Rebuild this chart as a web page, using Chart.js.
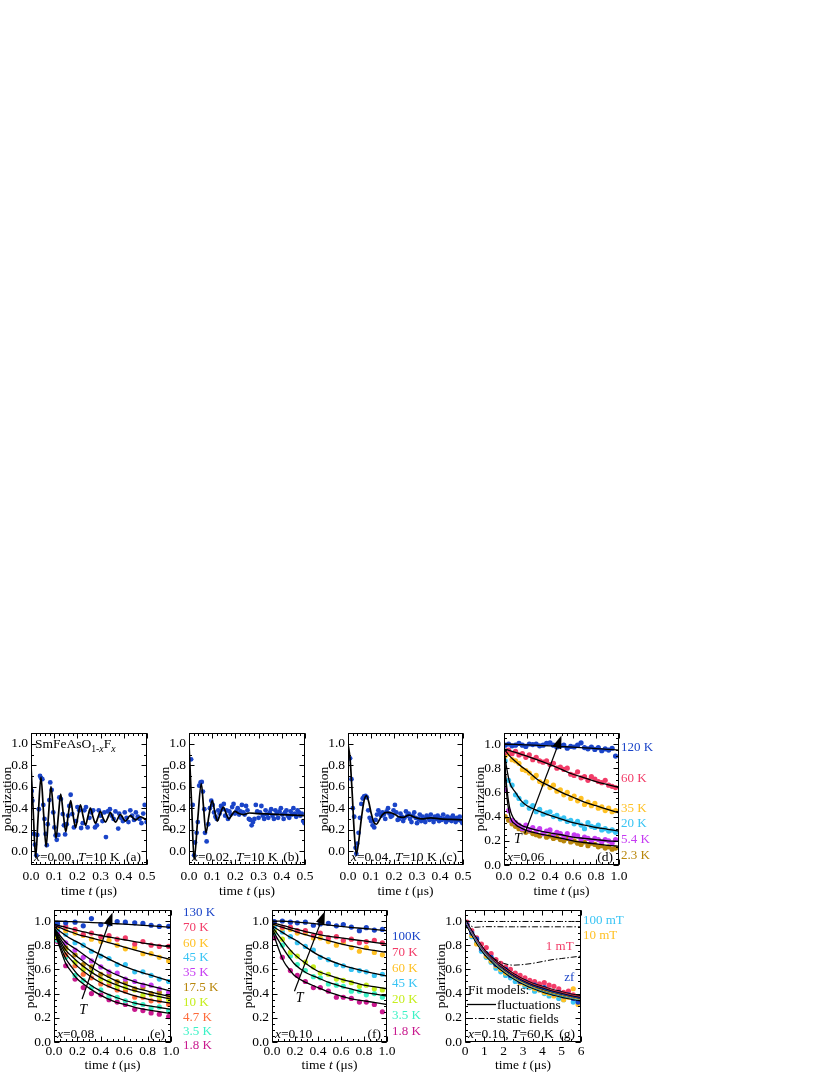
<!DOCTYPE html>
<html>
<head>
<meta charset="utf-8">
<script src="https://cdn.jsdelivr.net/npm/chart.js@4.4.1/dist/chart.umd.min.js"></script>
<style>
html,body{margin:0;padding:0;background:#fff;}
#fig{position:relative;width:830px;height:1075px;overflow:hidden;background:#fff;}
#fig canvas{position:absolute;}
</style>
</head>
<body>
<div id="fig"></div>
<script>
const FONT='"Liberation Serif", "Times New Roman", serif';
const BLUE='#1a44c8', RED='#f23c68', GOLD='#ffc125', CYAN='#38c4f4', PURPLE='#c63cf2',
      BROWN='#b8860b', LIME='#c6ee1e', ORANGE='#ff6c3c', AQUA='#3cf2c6', MAGENTA='#c8188e';

// tick values
const xTicksHalf=[0,0.1,0.2,0.3,0.4,0.5];
const xTicksOne=[0,0.2,0.4,0.6,0.8,1.0];
const xTicksG=[0,1,2,3,4,5,6];
const yTicks=[0,0.2,0.4,0.6,0.8,1.0];

// (a) x=0.00, T=10 K  -- [t, P]
const aPts=[[0.003,0.56],[0.006,0.47],[0.013,0.16],[0.017,0.06],[0.023,-0.04],[0.027,0.15],[0.034,0.39],[0.039,0.70],[0.044,0.68],[0.049,0.67],
[0.053,0.43],[0.058,0.30],[0.063,0.16],[0.068,0.055],[0.072,0.25],[0.079,0.475],[0.083,0.64],[0.089,0.57],[0.096,0.36],[0.101,0.22],
[0.106,0.145],[0.111,0.105],[0.118,0.15],[0.122,0.50],[0.129,0.485],[0.137,0.345],[0.142,0.24],[0.147,0.155],[0.154,0.25],[0.16,0.33],
[0.165,0.42],[0.171,0.525],[0.178,0.345],[0.185,0.22],[0.194,0.28],[0.2,0.41],[0.208,0.38],[0.216,0.215],[0.223,0.26],[0.23,0.38],
[0.237,0.41],[0.244,0.22],[0.252,0.31],[0.26,0.36],[0.268,0.38],[0.276,0.22],[0.284,0.24],[0.292,0.38],[0.3,0.33],[0.308,0.28],
[0.316,0.36],[0.323,0.13],[0.331,0.37],[0.34,0.39],[0.348,0.33],[0.356,0.30],[0.364,0.37],[0.376,0.21],[0.38,0.35],[0.388,0.31],
[0.396,0.28],[0.404,0.36],[0.412,0.31],[0.42,0.27],[0.428,0.38],[0.436,0.33],[0.444,0.29],[0.452,0.36],[0.46,0.32],[0.468,0.30],
[0.476,0.26],[0.484,0.35],[0.49,0.43],[0.498,0.27]];
const aFit=[[0,0.80],[0.010,0.35],[0.020,-0.06],[0.031,0.33],[0.043,0.69],[0.054,0.36],[0.065,0.04],[0.075,0.32],[0.086,0.60],[0.097,0.36],
[0.108,0.12],[0.118,0.33],[0.128,0.53],[0.139,0.35],[0.150,0.18],[0.160,0.33],[0.171,0.47],[0.181,0.34],[0.192,0.22],[0.202,0.32],
[0.213,0.43],[0.224,0.33],[0.235,0.24],[0.245,0.32],[0.256,0.40],[0.267,0.32],[0.278,0.26],[0.288,0.31],[0.299,0.37],[0.310,0.31],
[0.321,0.27],[0.331,0.31],[0.342,0.36],[0.353,0.31],[0.364,0.27],[0.385,0.34],[0.407,0.28],[0.428,0.33],[0.450,0.29],[0.471,0.32],
[0.492,0.30],[0.5,0.30]];

// (b) x=0.02, T=10 K
const bPts=[[0.009,0.855],[0.016,0.43],[0.022,-0.04],[0.026,0.08],[0.033,0.17],[0.038,0.27],[0.044,0.61],[0.05,0.64],[0.055,0.645],[0.06,0.555],
[0.066,0.39],[0.069,0.17],[0.076,0.09],[0.083,0.25],[0.09,0.40],[0.096,0.47],[0.102,0.43],[0.108,0.36],[0.114,0.32],[0.12,0.30],
[0.126,0.38],[0.132,0.35],[0.138,0.42],[0.144,0.39],[0.15,0.44],[0.156,0.33],[0.162,0.38],[0.168,0.30],[0.174,0.37],[0.18,0.34],
[0.186,0.41],[0.192,0.44],[0.198,0.35],[0.204,0.37],[0.21,0.40],[0.216,0.34],[0.222,0.37],[0.228,0.43],[0.234,0.36],[0.24,0.34],
[0.246,0.42],[0.252,0.38],[0.258,0.30],[0.264,0.29],[0.27,0.24],[0.276,0.27],[0.282,0.30],[0.288,0.43],[0.294,0.37],[0.3,0.31],
[0.306,0.36],[0.312,0.42],[0.318,0.33],[0.324,0.30],[0.33,0.38],[0.336,0.34],[0.342,0.31],[0.348,0.36],[0.354,0.39],[0.36,0.33],
[0.366,0.30],[0.372,0.38],[0.378,0.35],[0.384,0.31],[0.39,0.37],[0.396,0.40],[0.402,0.34],[0.408,0.30],[0.414,0.36],[0.42,0.38],
[0.426,0.33],[0.432,0.31],[0.438,0.37],[0.444,0.34],[0.45,0.40],[0.456,0.35],[0.462,0.32],[0.468,0.38],[0.474,0.36],[0.48,0.33],
[0.486,0.35],[0.492,0.28],[0.498,0.26]];
const bFit=[[0,1.0],[0.011,0.45],[0.022,-0.08],[0.037,0.28],[0.053,0.63],[0.063,0.40],[0.073,0.17],[0.086,0.33],[0.1,0.47],[0.111,0.37],
[0.122,0.28],[0.135,0.35],[0.148,0.41],[0.16,0.35],[0.172,0.30],[0.185,0.34],[0.198,0.37],[0.215,0.35],[0.235,0.34],[0.26,0.355],
[0.3,0.35],[0.35,0.345],[0.4,0.34],[0.45,0.335],[0.5,0.33]];

// (c) x=0.04, T=10 K
const cPts=[[0.009,0.865],[0.015,0.67],[0.021,0.40],[0.027,0.32],[0.033,0.03],[0.036,-0.025],[0.04,0.07],[0.046,0.17],[0.052,0.31],[0.058,0.44],
[0.064,0.49],[0.07,0.51],[0.076,0.515],[0.082,0.50],[0.088,0.38],[0.094,0.31],[0.1,0.28],[0.107,0.24],[0.114,0.22],[0.12,0.29],
[0.126,0.34],[0.132,0.38],[0.138,0.35],[0.144,0.33],[0.15,0.36],[0.156,0.34],[0.162,0.30],[0.168,0.37],[0.174,0.40],[0.18,0.35],
[0.186,0.32],[0.192,0.33],[0.198,0.38],[0.204,0.43],[0.21,0.36],[0.216,0.29],[0.222,0.30],[0.228,0.35],[0.234,0.32],[0.24,0.28],
[0.246,0.31],[0.252,0.37],[0.258,0.33],[0.264,0.35],[0.27,0.30],[0.276,0.27],[0.282,0.33],[0.288,0.36],[0.294,0.31],[0.3,0.26],
[0.306,0.30],[0.312,0.34],[0.318,0.28],[0.324,0.32],[0.33,0.30],[0.336,0.27],[0.342,0.33],[0.348,0.31],[0.354,0.29],[0.36,0.34],
[0.366,0.30],[0.372,0.27],[0.378,0.32],[0.384,0.30],[0.39,0.33],[0.396,0.28],[0.402,0.31],[0.408,0.29],[0.414,0.34],[0.42,0.30],
[0.426,0.27],[0.432,0.32],[0.438,0.29],[0.444,0.31],[0.45,0.28],[0.456,0.33],[0.462,0.30],[0.468,0.27],[0.474,0.31],[0.48,0.29],
[0.486,0.32],[0.492,0.28],[0.498,0.26]];
const cFit=[[0,1.0],[0.009,0.86],[0.018,0.55],[0.027,0.18],[0.036,-0.03],[0.046,0.08],[0.058,0.30],[0.07,0.47],[0.08,0.515],[0.09,0.46],
[0.1,0.36],[0.112,0.27],[0.124,0.25],[0.136,0.29],[0.15,0.34],[0.17,0.36],[0.19,0.355],[0.205,0.34],[0.22,0.32],[0.24,0.315],
[0.265,0.335],[0.29,0.315],[0.32,0.30],[0.36,0.31],[0.4,0.30],[0.45,0.295],[0.5,0.29]];

// (d) x=0.06
const dT=[0.01,0.04,0.07,0.10,0.13,0.16,0.19,0.22,0.25,0.28,0.31,0.34,0.37,0.40,0.43,0.46,0.49,0.52,0.55,0.58,0.61,0.64,0.67,0.70,0.73,0.76,0.79,0.82,0.85,0.88,0.91,0.94,0.97];
const d120=[0.99,1.0,0.985,0.99,1.005,0.99,0.98,1.0,0.995,1.0,0.985,0.99,1.005,1.01,0.99,0.975,0.985,0.99,0.965,0.98,0.975,0.99,1.01,0.97,0.96,0.975,0.955,0.97,0.945,0.96,0.95,0.965,0.90];
const d60=[0.93,0.95,0.92,0.94,0.91,0.92,0.89,0.91,0.87,0.89,0.86,0.85,0.86,0.83,0.84,0.80,0.81,0.79,0.80,0.75,0.74,0.77,0.72,0.73,0.70,0.73,0.71,0.69,0.68,0.70,0.66,0.65,0.64];
const d35=[0.90,0.92,0.87,0.86,0.84,0.79,0.78,0.76,0.72,0.74,0.69,0.67,0.69,0.64,0.66,0.61,0.62,0.58,0.60,0.55,0.57,0.53,0.55,0.50,0.52,0.49,0.51,0.47,0.48,0.45,0.47,0.44,0.45];
const d20=[0.86,0.70,0.66,0.58,0.55,0.50,0.52,0.47,0.49,0.44,0.46,0.42,0.43,0.44,0.40,0.41,0.38,0.39,0.36,0.37,0.34,0.36,0.33,0.30,0.35,0.32,0.31,0.33,0.29,0.30,0.28,0.29,0.27];
const d54=[0.62,0.45,0.37,0.35,0.33,0.30,0.33,0.29,0.31,0.28,0.30,0.26,0.28,0.29,0.25,0.27,0.26,0.23,0.26,0.22,0.25,0.24,0.21,0.23,0.22,0.20,0.22,0.21,0.19,0.21,0.20,0.18,0.21];
const d23=[0.40,0.37,0.34,0.32,0.30,0.29,0.27,0.28,0.26,0.25,0.24,0.26,0.23,0.24,0.22,0.23,0.21,0.20,0.22,0.19,0.20,0.18,0.17,0.19,0.16,0.18,0.17,0.15,0.16,0.14,0.15,0.13,0.14];
const dFitT=[0,0.02,0.05,0.1,0.15,0.2,0.3,0.4,0.5,0.6,0.7,0.8,0.9,1.0];
const dF120=[1.0,1.0,0.998,0.996,0.994,0.992,0.988,0.984,0.979,0.974,0.968,0.962,0.956,0.95];
const dF60=[0.96,0.955,0.945,0.93,0.915,0.9,0.865,0.83,0.79,0.75,0.72,0.69,0.665,0.64];
const dF35=[0.96,0.935,0.90,0.855,0.815,0.78,0.70,0.65,0.60,0.56,0.52,0.49,0.46,0.43];
const dF20=[0.95,0.82,0.68,0.60,0.53,0.49,0.445,0.41,0.38,0.35,0.33,0.31,0.295,0.28];
const dF54=[0.95,0.68,0.47,0.365,0.33,0.31,0.285,0.265,0.25,0.23,0.22,0.21,0.20,0.195];
const dF23=[0.95,0.62,0.41,0.335,0.305,0.285,0.26,0.24,0.22,0.20,0.186,0.174,0.163,0.155];
const dNames=['120 K','60 K','35 K','20 K','5.4 K','2.3 K'];
const dNameV=[0.967,0.714,0.47,0.34,0.21,0.08];

// (e) x=0.08
const eT=[0.03,0.10,0.18,0.25,0.32,0.40,0.47,0.54,0.61,0.69,0.76,0.83,0.90,0.98];
const e130=[0.98,0.985,0.99,0.96,1.02,0.97,0.975,0.995,0.99,0.985,0.98,0.965,0.955,0.955];
const e70=[0.965,0.955,0.93,0.89,0.90,0.87,0.88,0.85,0.86,0.81,0.83,0.80,0.79,0.79];
const e60=[0.95,0.92,0.90,0.88,0.85,0.83,0.84,0.80,0.77,0.78,0.73,0.73,0.70,0.67];
const e45=[0.93,0.89,0.82,0.80,0.75,0.71,0.69,0.64,0.64,0.58,0.58,0.55,0.52,0.50];
const e35=[0.90,0.82,0.76,0.70,0.67,0.62,0.58,0.57,0.52,0.50,0.47,0.47,0.44,0.41];
const e17=[0.89,0.78,0.72,0.64,0.62,0.56,0.55,0.50,0.49,0.44,0.45,0.40,0.41,0.38];
const e10=[0.87,0.77,0.66,0.60,0.58,0.52,0.50,0.46,0.45,0.43,0.39,0.39,0.37,0.35];
const e4=[0.86,0.72,0.63,0.56,0.53,0.48,0.47,0.43,0.42,0.37,0.37,0.34,0.34,0.31];
const e3=[0.84,0.70,0.55,0.51,0.45,0.43,0.38,0.37,0.34,0.32,0.31,0.28,0.29,0.26];
const e1=[0.83,0.63,0.52,0.45,0.40,0.39,0.35,0.33,0.31,0.27,0.26,0.24,0.23,0.21];
const eFitT=[0,0.05,0.1,0.15,0.2,0.3,0.4,0.5,0.6,0.7,0.8,0.9,1.0];
const eF130=[1.0,0.998,0.996,0.994,0.992,0.988,0.984,0.979,0.974,0.968,0.962,0.955,0.948];
const eF70=[0.975,0.96,0.948,0.935,0.922,0.90,0.88,0.862,0.845,0.828,0.812,0.798,0.785];
const eF60=[0.965,0.945,0.925,0.908,0.89,0.865,0.84,0.812,0.785,0.758,0.73,0.705,0.68];
const eF45=[0.955,0.915,0.88,0.85,0.825,0.77,0.72,0.67,0.625,0.59,0.56,0.53,0.50];
const eF35=[0.945,0.88,0.825,0.79,0.76,0.69,0.625,0.57,0.53,0.495,0.47,0.445,0.42];
const eF17=[0.94,0.86,0.79,0.745,0.705,0.63,0.57,0.52,0.48,0.445,0.42,0.395,0.375];
const eF10=[0.935,0.84,0.76,0.71,0.665,0.59,0.53,0.485,0.45,0.42,0.395,0.375,0.355];
const eF4=[0.93,0.82,0.73,0.675,0.625,0.55,0.49,0.445,0.41,0.38,0.355,0.335,0.32];
const eF3=[0.93,0.80,0.69,0.62,0.56,0.48,0.42,0.38,0.345,0.32,0.30,0.285,0.27];
const eF1=[0.925,0.78,0.65,0.58,0.52,0.445,0.385,0.34,0.31,0.285,0.265,0.25,0.235];
const eNames=['130 K','70 K','60 K','45 K','35 K','17.5 K','10 K','4.7 K','3.5 K','1.8 K'];
const eNameV=[1.067,0.944,0.817,0.694,0.573,0.452,0.324,0.203,0.09,-0.03];

// (f) x=0.10
const fT=[0.02,0.09,0.16,0.22,0.29,0.36,0.42,0.49,0.56,0.62,0.69,0.76,0.82,0.89,0.96];
const f100=[0.995,1.0,0.99,0.985,0.99,0.965,0.975,0.98,0.96,0.97,0.95,0.92,0.945,0.925,0.93];
const f70=[0.99,0.95,0.95,0.92,0.92,0.88,0.90,0.86,0.87,0.84,0.85,0.82,0.83,0.84,0.82];
const f60=[0.98,0.94,0.93,0.90,0.90,0.86,0.86,0.83,0.80,0.82,0.78,0.75,0.78,0.74,0.72];
const f45=[0.95,0.91,0.87,0.82,0.79,0.76,0.70,0.68,0.64,0.63,0.60,0.59,0.58,0.55,0.56];
const f20=[0.92,0.85,0.74,0.71,0.66,0.62,0.57,0.56,0.52,0.51,0.49,0.46,0.47,0.44,0.43];
const f3=[0.90,0.80,0.71,0.64,0.59,0.54,0.53,0.48,0.47,0.46,0.42,0.42,0.39,0.40,0.37];
const f1=[0.86,0.70,0.59,0.55,0.50,0.45,0.45,0.42,0.37,0.37,0.36,0.33,0.33,0.31,0.25];
const fFitT=[0,0.05,0.1,0.15,0.2,0.3,0.4,0.5,0.6,0.7,0.8,0.9,1.0];
const fF100=[1.0,0.999,0.998,0.995,0.993,0.985,0.975,0.965,0.955,0.946,0.938,0.929,0.92];
const fF70=[0.985,0.975,0.962,0.948,0.935,0.91,0.89,0.873,0.86,0.847,0.835,0.822,0.81];
const fF60=[0.975,0.96,0.945,0.93,0.915,0.885,0.86,0.835,0.81,0.79,0.77,0.755,0.74];
const fF45=[0.965,0.93,0.9,0.87,0.845,0.78,0.72,0.675,0.64,0.61,0.585,0.565,0.545];
const fF20=[0.955,0.89,0.83,0.77,0.72,0.645,0.585,0.55,0.52,0.495,0.47,0.455,0.44];
const fF3=[0.94,0.85,0.77,0.70,0.64,0.57,0.53,0.49,0.46,0.435,0.41,0.395,0.38];
const fF1=[0.93,0.79,0.67,0.60,0.545,0.49,0.45,0.41,0.38,0.355,0.34,0.325,0.31];
const fNames=['100K','70 K','60 K','45 K','20 K','3.5 K','1.8 K'];
const fNameV=[0.87,0.74,0.61,0.48,0.35,0.22,0.09];

// (g) x=0.10, T=60 K, longitudinal fields
const gT=[0.1,0.35,0.6,0.85,1.1,1.35,1.6,1.85,2.1,2.35,2.6,2.85,3.1,3.35,3.6,3.85,4.1,4.35,4.6,4.85,5.1,5.35,5.6,5.85];
const gZf=[0.97,0.90,0.85,0.77,0.73,0.70,0.64,0.62,0.60,0.55,0.54,0.50,0.50,0.47,0.47,0.44,0.45,0.42,0.40,0.41,0.38,0.39,0.36,0.33];
const g1=[0.99,0.92,0.86,0.81,0.78,0.73,0.68,0.65,0.62,0.60,0.57,0.55,0.53,0.51,0.50,0.48,0.49,0.47,0.46,0.44,0.41,0.42,0.39,0.37];
const g10=[0.96,0.88,0.81,0.77,0.71,0.67,0.63,0.60,0.57,0.55,0.53,0.49,0.48,0.46,0.44,0.43,0.41,0.40,0.38,0.39,0.35,0.37,0.44,0.31];
const g100=[0.96,0.87,0.82,0.75,0.70,0.66,0.61,0.58,0.55,0.53,0.50,0.49,0.46,0.45,0.42,0.43,0.40,0.38,0.39,0.36,0.35,0.38,0.33,0.34];
const gFitT=[0,0.25,0.5,0.75,1,1.5,2,2.5,3,3.5,4,4.5,5,5.5,6];
const gFZf=[1.0,0.93,0.865,0.80,0.745,0.665,0.60,0.545,0.50,0.465,0.44,0.415,0.395,0.375,0.36];
const gF1=[1.0,0.935,0.87,0.81,0.755,0.675,0.615,0.56,0.515,0.48,0.455,0.43,0.41,0.39,0.375];
const gF10=[1.0,0.928,0.86,0.795,0.74,0.66,0.59,0.535,0.49,0.455,0.428,0.405,0.385,0.367,0.35];
const gF100=[1.0,0.925,0.855,0.79,0.735,0.65,0.585,0.53,0.485,0.45,0.42,0.397,0.377,0.36,0.345];
const gS100=[1.0,0.997,0.996,0.996,0.996,0.996,0.996,0.996,0.996,0.996,0.996,0.996,0.996,0.996,0.996];
const gS10=[1.0,0.965,0.948,0.95,0.953,0.953,0.952,0.952,0.952,0.952,0.952,0.952,0.952,0.952,0.952];
const gS1=[1.0,0.93,0.87,0.81,0.76,0.69,0.65,0.635,0.64,0.65,0.665,0.68,0.69,0.70,0.71];

const zip=(ts,vs)=>ts.map((t,i)=>({x:t,y:vs[i]}));
const pairs=ps=>ps.map(p=>({x:p[0],y:p[1]}));

function dots(data,color,r){
  return {data,showLine:false,pointRadius:r||2.6,pointHoverRadius:r||2.6,pointBackgroundColor:color,pointBorderWidth:0,order:3};
}
function curve(data,color,width,dash,order){
  return {data,showLine:true,pointRadius:0,borderColor:color||'#000',borderWidth:width||1.3,
    borderDash:dash||[],cubicInterpolationMode:'monotone',fill:false,order:order||1};
}

// mixed italic / subscript text
function rich(ctx,parts,x,y,size,align,color){
  let w=0;
  const segs=parts.map(([t,st])=>{
    const sub=st.indexOf('s')>=0, it=st.indexOf('i')>=0;
    const fs=sub?size*0.72:size;
    const f=(it?'italic ':'')+fs+'px '+FONT;
    ctx.font=f;
    const sw=ctx.measureText(t).width;
    w+=sw;
    return {t,f,sw,dy:sub?size*0.32:0};
  });
  let cx=align==='right'?x-w:align==='center'?x-w/2:x;
  ctx.fillStyle=color||'#000';
  ctx.textAlign='left';
  ctx.textBaseline='alphabetic';
  segs.forEach(s=>{ctx.font=s.f;ctx.fillText(s.t,cx,y+s.dy);cx+=s.sw;});
}

const deco={
  id:'deco',
  afterDraw(chart,args,o){
    const ctx=chart.ctx, a=chart.chartArea, x=chart.scales.x, y=chart.scales.y;
    const L=Math.round(a.left)+0.5, R=Math.round(a.right)-0.5, T=Math.round(a.top)+0.5, B=Math.round(a.bottom)-0.5;
    ctx.save();
    ctx.strokeStyle='#000';ctx.fillStyle='#000';ctx.lineWidth=1;ctx.setLineDash([]);
    ctx.strokeRect(L,T,R-L,B-T);
    ctx.beginPath();
    const mark=(v,len,isX)=>{
      if(isX){
        const px=Math.round(x.getPixelForValue(v))+0.5;
        ctx.moveTo(px,B);ctx.lineTo(px,B-len);ctx.moveTo(px,T);ctx.lineTo(px,T+len);
      }else{
        const py=Math.round(y.getPixelForValue(v))+0.5;
        ctx.moveTo(L,py);ctx.lineTo(L+len,py);ctx.moveTo(R,py);ctx.lineTo(R-len,py);
      }
    };
    for(let k=0;x.min+k*o.xMinor<=x.max+1e-9;k++) mark(x.min+k*o.xMinor,2.5,true);
    x.ticks.forEach(t=>mark(t.value,5,true));
    for(let k=Math.ceil(y.min/o.yMinor-1e-9);k*o.yMinor<=y.max+1e-9;k++) mark(k*o.yMinor,2.5,false);
    y.ticks.forEach(t=>mark(t.value,5,false));
    ctx.stroke();

    // axis titles
    rich(ctx,[['time ',''],['t','i'],[' (\u03bcs)','']],(a.left+a.right)/2,a.bottom+o.titleDy,13.5,'center');
    ctx.save();
    ctx.translate(a.left-24,(a.top+a.bottom)/2);
    ctx.rotate(-Math.PI/2);
    rich(ctx,[['polarization','']],0,4,13.5,'center');
    ctx.restore();

    // series names on the right
    if(o.names){
      ctx.font='13px '+FONT;ctx.textAlign='left';ctx.textBaseline='middle';
      o.names.forEach((n,i)=>{ctx.fillStyle=o.nameColors[i];ctx.fillText(n,a.right+o.nameGap,y.getPixelForValue(o.nameV[i]));});
    }
    if(o.inner){
      o.inner.forEach(n=>{
        ctx.font='13px '+FONT;ctx.textAlign='center';ctx.textBaseline='middle';ctx.fillStyle=n.color;
        ctx.fillText(n.text,x.getPixelForValue(n.t),y.getPixelForValue(n.v));
      });
    }
    // temperature arrow
    if(o.arrow){
      const x0=x.getPixelForValue(o.arrow[0]),y0=y.getPixelForValue(o.arrow[1]);
      const x1=x.getPixelForValue(o.arrow[2]),y1=y.getPixelForValue(o.arrow[3]);
      const ang=Math.atan2(y1-y0,x1-x0),hl=13,hw=4.5;
      const bx=x1-hl*Math.cos(ang),by=y1-hl*Math.sin(ang);
      ctx.strokeStyle='#000';ctx.fillStyle='#000';ctx.lineWidth=1.2;
      ctx.beginPath();ctx.moveTo(x0,y0);ctx.lineTo(bx,by);ctx.stroke();
      ctx.beginPath();ctx.moveTo(x1,y1);
      ctx.lineTo(bx+hw*Math.sin(ang),by-hw*Math.cos(ang));
      ctx.lineTo(bx-hw*Math.sin(ang),by+hw*Math.cos(ang));
      ctx.closePath();ctx.fill();
      rich(ctx,[['T','i']],x.getPixelForValue(o.tMark[0]),y.getPixelForValue(o.tMark[1])+4.5,14,'center');
    }
    // fit model key for (g)
    if(o.key){
      const lx=a.left;
      rich(ctx,[['Fit models:','']],lx+3,y.getPixelForValue(0.435)+4.5,13.5);
      let yy=Math.round(y.getPixelForValue(0.315))+0.5;
      ctx.strokeStyle='#000';ctx.lineWidth=1.3;ctx.setLineDash([]);
      ctx.beginPath();ctx.moveTo(lx+2,yy);ctx.lineTo(lx+31,yy);ctx.stroke();
      rich(ctx,[['fluctuations','']],lx+32,yy+4.5,13.5);
      yy=Math.round(y.getPixelForValue(0.2))+0.5;
      ctx.lineWidth=1;ctx.setLineDash([6,2,1.5,2]);
      ctx.beginPath();ctx.moveTo(lx+2,yy);ctx.lineTo(lx+30,yy);ctx.stroke();
      ctx.setLineDash([]);
      rich(ctx,[['static fields','']],lx+32,yy+4.5,13.5);
    }
    // corner notes
    (o.notes||[]).forEach(n=>{
      const px=(n.side==='r'?a.right:a.left)+n.dx;
      const py=(n.top?a.top:a.bottom)+n.dy;
      rich(ctx,n.parts,px,py,13.5,n.side==='r'?'right':'left');
    });
    ctx.restore();
  }
};

const fig=document.getElementById('fig');
function panel(cfg){
  const YW=34,TP=10,XH=cfg.xh;
  const [bl,bt,bw,bh]=cfg.box;
  const W=YW+bw+cfg.right,H=TP+bh+XH;
  const cv=document.createElement('canvas');
  cv.width=W;cv.height=H;
  cv.style.left=(bl-YW)+'px';cv.style.top=(bt-TP)+'px';
  cv.style.width=W+'px';cv.style.height=H+'px';
  fig.appendChild(cv);
  const tickFont={family:FONT,size:13.5};
  return new Chart(cv,{
    type:'scatter',
    data:{datasets:cfg.datasets},
    options:{
      responsive:false,animation:false,events:[],devicePixelRatio:1,
      layout:{padding:{left:0,top:TP,right:cfg.right,bottom:0}},
      plugins:{legend:{display:false},tooltip:{enabled:false},deco:cfg.deco},
      scales:{
        x:{type:'linear',position:'bottom',min:cfg.x[0],max:cfg.x[1],
          afterBuildTicks:s=>{s.ticks=cfg.xTicks.map(v=>({value:v}));},
          afterFit:s=>{s.height=XH;},
          grid:{display:false,drawTicks:false},border:{display:false},
          ticks:{font:tickFont,color:'#000',padding:cfg.tickPad,autoSkip:false,maxRotation:0,callback:v=>v.toFixed(cfg.xDigits)}},
        y:{type:'linear',position:'left',min:cfg.y[0],max:cfg.y[1],
          afterBuildTicks:s=>{s.ticks=yTicks.map(v=>({value:v}));},
          afterFit:s=>{s.width=YW;},
          grid:{display:false,drawTicks:false},border:{display:false},
          ticks:{font:tickFont,color:'#000',padding:3,callback:v=>v.toFixed(1)}}
      }
    },
    plugins:[deco]
  });
}

const xNote=(xv,tv)=>tv?[['x','i'],['='+xv+', ',''],['T','i'],['='+tv,'']]:[['x','i'],['='+xv,'']];
const corner=(xv,tv,tag)=>[{side:'l',dx:3,dy:-4,parts:xNote(xv,tv)},{side:'r',dx:-6,dy:-4,parts:[[tag,'']]}];
const topRow={xh:38,tickPad:3};
const botRow={xh:34,tickPad:1};

// top row
panel({...topRow,box:[31,732,116,133],right:12,x:[0,0.5],xTicks:xTicksHalf,xDigits:1,y:[-0.13,1.1],
  datasets:[dots(pairs(aPts),BLUE,2.4),curve(pairs(aFit),'#000',1.7)],
  deco:{titleDy:29.5,xMinor:0.02,yMinor:0.1,notes:corner('0.00','10 K','(a)').concat([
    {side:'l',dx:4,top:true,dy:15,parts:[['SmFeAsO',''],['1-','s'],['x','si'],['F',''],['x','si']]}])}});
panel({...topRow,box:[189,732,116,133],right:12,x:[0,0.5],xTicks:xTicksHalf,xDigits:1,y:[-0.13,1.1],
  datasets:[dots(pairs(bPts),BLUE,2.4),curve(pairs(bFit),'#000',1.7)],
  deco:{titleDy:29.5,xMinor:0.02,yMinor:0.1,notes:corner('0.02','10 K','(b)')}});
panel({...topRow,box:[348,732,115,133],right:12,x:[0,0.5],xTicks:xTicksHalf,xDigits:1,y:[-0.13,1.1],
  datasets:[dots(pairs(cPts),BLUE,2.4),curve(pairs(cFit),'#000',1.7)],
  deco:{titleDy:29.5,xMinor:0.02,yMinor:0.1,notes:corner('0.04','10 K','(c)')}});

const dCols=[BLUE,RED,GOLD,CYAN,PURPLE,BROWN];
const dVals=[d120,d60,d35,d20,d54,d23], dFits=[dF120,dF60,dF35,dF20,dF54,dF23];
panel({...topRow,box:[504,732,115,133],right:50,x:[0,1],xTicks:xTicksOne,xDigits:1,y:[0,1.09],
  datasets:dVals.map((v,i)=>dots(zip(dT,v),dCols[i])).concat(dFits.map(v=>curve(zip(dFitT,v)))),
  deco:{titleDy:29.5,xMinor:0.05,yMinor:0.05,names:dNames,nameV:dNameV,nameColors:dCols,nameGap:2,
    arrow:[0.18,0.26,0.5,1.07],tMark:[0.12,0.215],notes:corner('0.06',null,'(d)')}});

// bottom row
const eCols=[BLUE,RED,GOLD,CYAN,PURPLE,BROWN,LIME,ORANGE,AQUA,MAGENTA];
const eVals=[e130,e70,e60,e45,e35,e17,e10,e4,e3,e1], eFits=[eF130,eF70,eF60,eF45,eF35,eF17,eF10,eF4,eF3,eF1];
panel({...botRow,box:[54,909,117,133],right:60,x:[0,1],xTicks:xTicksOne,xDigits:1,y:[0,1.09],
  datasets:eVals.map((v,i)=>dots(zip(eT,v),eCols[i])).concat(eFits.map(v=>curve(zip(eFitT,v)))),
  deco:{titleDy:26.5,xMinor:0.05,yMinor:0.05,names:eNames,nameV:eNameV,nameColors:eCols,nameGap:12,
    arrow:[0.24,0.355,0.5,1.07],tMark:[0.25,0.27],notes:corner('0.08',null,'(e)')}});

const fCols=[BLUE,RED,GOLD,CYAN,LIME,AQUA,MAGENTA];
const fVals=[f100,f70,f60,f45,f20,f3,f1], fFits=[fF100,fF70,fF60,fF45,fF20,fF3,fF1];
panel({...botRow,box:[272,909,115,133],right:50,x:[0,1],xTicks:xTicksOne,xDigits:1,y:[0,1.09],
  datasets:fVals.map((v,i)=>dots(zip(fT,v),fCols[i])).concat(fFits.map(v=>curve(zip(fFitT,v)))),
  deco:{titleDy:26.5,xMinor:0.05,yMinor:0.05,names:fNames,nameV:fNameV,nameColors:fCols,nameGap:5,
    arrow:[0.195,0.42,0.46,1.08],tMark:[0.24,0.37],notes:corner('0.10',null,'(f)')}});

const gCols=[BLUE,RED,GOLD,CYAN];
const gVals=[gZf,g1,g10,g100], gFits=[gFZf,gF1,gF10,gF100];
const dashDot=[6,2,1.5,2];
panel({...botRow,box:[465,909,116,133],right:50,x:[0,6],xTicks:xTicksG,xDigits:0,y:[0,1.09],
  datasets:gVals.map((v,i)=>dots(zip(gT,v),gCols[i]))
    .concat(gFits.map(v=>curve(zip(gFitT,v),'#000',2.6,null,2)))
    .concat(gFits.map((v,i)=>curve(zip(gFitT,v),gCols[i],0.8,null,1)))
    .concat([gS100,gS10,gS1].map(v=>curve(zip(gFitT,v),'#000',1,dashDot,1))),
  deco:{titleDy:26.5,xMinor:0.5,yMinor:0.05,names:['100 mT','10 mT'],nameV:[1.0,0.88],nameColors:[CYAN,GOLD],nameGap:2,
    inner:[{t:4.9,v:0.785,text:'1 mT',color:RED},{t:5.4,v:0.535,text:'zf',color:BLUE}],
    key:true,notes:corner('0.10','60 K','(g)')}});
</script>
</body>
</html>
